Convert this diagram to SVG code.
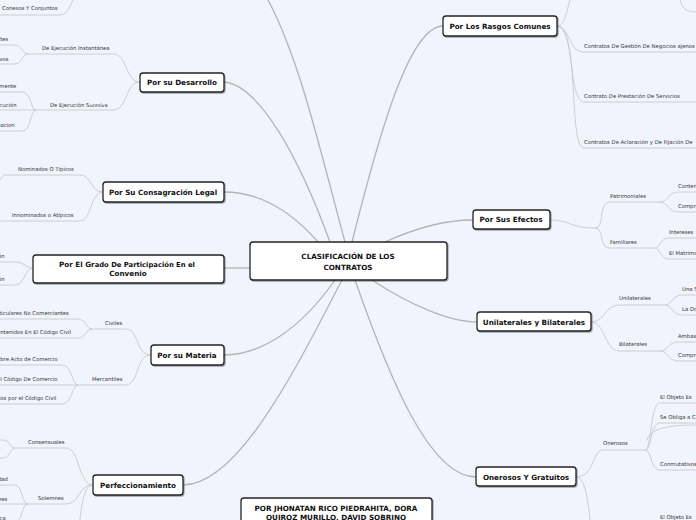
<svg xmlns="http://www.w3.org/2000/svg" width="696" height="520" viewBox="0 0 696 520">
<style>
.bg{fill:#f1f4fd}
.n rect{fill:#fff;stroke:#222;stroke-width:1.3}
.n text{font-family:"DejaVu Sans",sans-serif;font-weight:bold;font-size:7.2px;fill:#111;text-anchor:middle}
.c path{fill:none;stroke:#b4b4b4;stroke-width:1.3}
.s path{fill:none;stroke:#c8c8c8;stroke-width:0.9}
.t{font-family:"DejaVu Sans",sans-serif;font-size:5.3px;fill:#333}
</style>
<defs><filter id="sh"><feDropShadow dx="1" dy="1" stdDeviation="0.6" flood-opacity="0.35"/></filter></defs>
<rect class="bg" width="696" height="520"/>
<g class="c">
<path d="M345,242 C320,150 300,60 268,0"/>
<path d="M330,242 C300,160 260,85 224,82"/>
<path d="M318,242 C290,210 260,192 224,192"/>
<path d="M250,268 C240,268 232,268 224,268"/>
<path d="M335,280 C300,330 260,355 224,355"/>
<path d="M342,280 C300,360 240,485 183,485"/>
<path d="M352,242 C380,130 410,26 443,26"/>
<path d="M385,242 C420,226 450,220 473,220"/>
<path d="M372,280 C410,305 450,322 477,322"/>
<path d="M355,280 C390,380 430,477 476,477"/>
</g>
<g class="s">
<path d="M0,15 H60 C68,15 70,5 73,0"/>
<path d="M140,82 C125,82 128,54 113,54 H28"/>
<path d="M28,54 C22,54 22,45 15,45 H0 M28,54 C22,54 22,64 15,64 H0"/>
<path d="M140,82 C125,82 128,110 113,110 H36"/>
<path d="M36,110 C30,110 32,92 22,92 H0 M36,110 H0 M36,110 C30,110 32,131 22,131 H0"/>
<path d="M103,192 C90,192 92,175 80,175 H5 M5,175 C3,175 2,178 0,180"/>
<path d="M103,192 C90,192 92,221 80,221 H0"/>
<path d="M33,268 C25,268 25,262 15,262 H0 M33,268 C25,268 25,285 15,285 H0"/>
<path d="M151,355 C135,355 140,329 125,329 H92"/>
<path d="M92,329 C86,329 86,319 78,319 H0 M92,329 C86,329 86,338 78,338 H0"/>
<path d="M151,355 C135,355 140,385 125,385 H78"/>
<path d="M78,385 C72,385 72,365 62,365 H0 M78,385 H0 M78,385 C72,385 72,404 62,404 H0"/>
<path d="M93,485 C78,485 80,448 66,448 H15"/>
<path d="M15,448 C10,448 10,440 3,440 H0 M15,448 C10,448 10,458 3,458 H0"/>
<path d="M93,485 C78,485 80,504 66,504 H28"/>
<path d="M28,504 C22,504 22,485 15,485 H0 M28,504 H0 M28,504 C22,504 22,520 18,520"/>
<path d="M93,485 C85,485 82,500 80,520"/>
<path d="M557,26 C565,26 567,10 570,0"/>
<path d="M557,26 C570,26 568,52 584,52 H696"/>
<path d="M557,26 C575,26 568,102 584,102 H696"/>
<path d="M557,26 C580,26 568,148 584,148 H696"/>
<path d="M680,0 C682,8 686,12 696,12"/>
<path d="M550,220 C570,220 570,228 595,228 C605,228 598,202 610,202 H660"/>
<path d="M595,228 C605,228 598,248 610,248 H655"/>
<path d="M660,202 C668,202 668,192 678,192 H696 M660,202 C668,202 668,212 678,212 H696"/>
<path d="M655,248 C660,248 660,238 669,238 H696 M655,248 C660,248 660,259 669,259 H696"/>
<path d="M591,322 C605,322 605,305 619,305 H665"/>
<path d="M591,322 C605,322 605,351 619,351 H660"/>
<path d="M665,305 C672,305 672,295 682,295 H696 M665,305 C672,305 672,315 682,315 H696"/>
<path d="M660,351 C668,351 668,342 678,342 H696 M660,351 C668,351 668,361 678,361 H696"/>
<path d="M576,477 C595,477 592,450 603,450 H645"/>
<path d="M645,450 C652,450 650,403 660,403 H696 M645,450 C652,450 650,423 660,423 H696 M645,450 C652,450 650,470 660,470 H696"/>
<path d="M647,440 C650,428 670,425 696,425"/>
<path d="M576,477 C585,477 588,500 590,520"/>
</g>
<g class="t">
<text x="2" y="10">Conexos Y Conjuntos</text>
<text x="42" y="50">De Ejecución Instantánea</text>
<text x="-2" y="41">rtes</text>
<text x="-2" y="61">ivos</text>
<text x="50" y="107">De Ejecución S<tspan font-size="4.8">ucesiva</tspan></text>
<text x="-4" y="88">amente</text>
<text x="-4" y="107">ecución</text>
<text x="-4" y="127">ciacion</text>
<text x="18" y="171">Nominados O Típicos</text>
<text x="12" y="217">Innominados o Atípicos</text>
<text x="-2" y="258">ón</text>
<text x="-2" y="281">ón</text>
<text x="105" y="325">Civiles</text>
<text x="-3" y="315">rticulares No Comerciantes</text>
<text x="-3" y="334">ontenidos En El Código Civil</text>
<text x="92" y="381">Mercantiles</text>
<text x="-3" y="361">obre Acto de Comercio</text>
<text x="-3" y="381">el Código De Comercio</text>
<text x="-3" y="400">dos por el Código Civil</text>
<text x="28" y="444">Consensuales</text>
<text x="38" y="500">Solemnes</text>
<text x="-2" y="481">dad</text>
<text x="-2" y="501">nes</text>
<text x="-2" y="520">ica</text>
<text x="584" y="48">Contratos De Gestión De Negocios ajenos</text>
<text x="584" y="98">Contrato De Prestación De Servicios</text>
<text x="584" y="144">Contratos De Aclaración y De Fijación De</text>
<text x="610" y="198">Patrimoniales</text>
<text x="678" y="188">Contenido</text>
<text x="678" y="208">Comprende</text>
<text x="610" y="244">Familiares</text>
<text x="669" y="234">Intereses</text>
<text x="669" y="255">El Matrimonio</text>
<text x="619" y="300">Unilaterales</text>
<text x="682" y="291">Una Sola</text>
<text x="682" y="311">La Doctrina</text>
<text x="619" y="346">Bilaterales</text>
<text x="678" y="338">Ambas</text>
<text x="678" y="357">Comprende</text>
<text x="603" y="445">Onerosos</text>
<text x="660" y="399">El Objeto Es</text>
<text x="660" y="419">Se Obliga a Cumplir</text>
<text x="660" y="466">Conmutativos</text>
<text x="660" y="519">El Objeto Es</text>
</g>
<g id="central" class="n"><rect x="250" y="242" width="197" height="38" rx="3" filter="url(#sh)"/><text x="348" y="259" font-size="8">CLASIFICACIÓN DE LOS</text><text x="348" y="270" font-size="8">CONTRATOS</text></g>
<g id="rasgos" class="n"><rect x="443" y="16" width="114" height="20" rx="3" filter="url(#sh)"/><text x="500" y="29">Por Los Rasgos Comunes</text></g>
<g id="efectos" class="n"><rect x="473" y="210" width="77" height="19" rx="3" filter="url(#sh)"/><text x="511" y="222">Por Sus Efectos</text></g>
<g id="unilat" class="n"><rect x="477" y="312" width="114" height="19" rx="3" filter="url(#sh)"/><text x="534" y="325">Unilaterales y Bilaterales</text></g>
<g id="onerosos" class="n"><rect x="476" y="467" width="100" height="19" rx="3" filter="url(#sh)"/><text x="526" y="480">Onerosos Y Gratuitos</text></g>
<g id="desarrollo" class="n"><rect x="140" y="73" width="84" height="19" rx="3" filter="url(#sh)"/><text x="182" y="85">Por su Desarrollo</text></g>
<g id="consagracion" class="n"><rect x="103" y="182" width="121" height="20" rx="3" filter="url(#sh)"/><text x="163" y="195">Por Su Consagración Legal</text></g>
<g id="grado" class="n"><rect x="33" y="255" width="191" height="28" rx="3" filter="url(#sh)"/><text x="127" y="267">Por El Gr<tspan font-size="6.8">ado De Participación En el</tspan></text><text x="128" y="276">Convenio</text></g>
<g id="materia" class="n"><rect x="151" y="345" width="73" height="20" rx="3" filter="url(#sh)"/><text x="187" y="358">Por su Materia</text></g>
<g id="perfecc" class="n"><rect x="93" y="475" width="90" height="20" rx="3" filter="url(#sh)"/><text x="138" y="488">Perfeccionamiento</text></g>
<g id="autores" class="n"><rect x="241" y="498" width="191" height="30" rx="3" filter="url(#sh)"/><text x="336" y="511">POR JHONATAN RICO PIEDRAHITA, DORA</text><text x="336" y="520">QUIROZ MURILLO, DAVID SOBRINO</text></g>
</svg>
